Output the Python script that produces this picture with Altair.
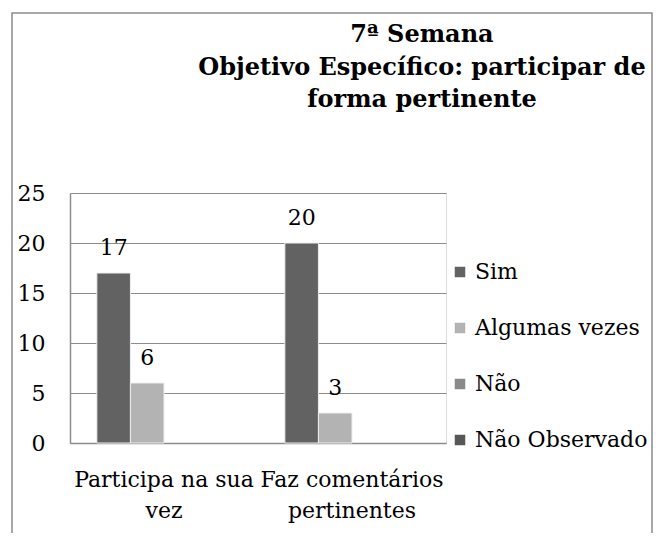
import altair as alt
import pandas as pd

categories = ["Participa na sua vez", "Faz comentários pertinentes"]
category_lines = [["Participa na sua", "vez"], ["Faz comentários", "pertinentes"]]
series = ["Sim", "Algumas vezes", "Não", "Não Observado"]
colors = ["#626262", "#b3b3b3", "#8a8a8a", "#575757"]
sim_values = [17, 20]
algumas_values = [6, 3]
title_lines = ["7ª Semana", "Objetivo Específico: participar de", "forma pertinente"]

rows = []
for c, s, a in zip(categories, sim_values, algumas_values):
    rows.append({"categoria": c, "serie": "Sim", "valor": s})
    rows.append({"categoria": c, "serie": "Algumas vezes", "valor": a})
df = pd.DataFrame(rows)

label_expr = " : ".join(
    [f"datum.value == '{c}' ? {lines!r}" for c, lines in zip(categories, category_lines)]
) + " : datum.value"

FONT = "DejaVu Serif"

y_scale = alt.Scale(domain=[0, 25], nice=False, zero=True, padding=0)

x_enc = alt.X(
    "categoria:N",
    sort=categories,
    scale=alt.Scale(domain=categories, paddingInner=0, paddingOuter=0),
    axis=alt.Axis(
        title=None, labelAngle=0, ticks=False, labelExpr=label_expr,
        labelFontSize=22, labelFont=FONT, labelColor="#000000", labelLimit=0,
        labelPadding=26, labelLineHeight=31, labelBaseline="top",
        domainColor="#8c8c8c", domainWidth=1.5,
    ),
)
xoff = alt.XOffset(
    "serie:N",
    scale=alt.Scale(domain=series, paddingInner=0, paddingOuter=0.8),
)
y_enc = alt.Y(
    "valor:Q",
    scale=y_scale,
    axis=alt.Axis(
        title=None, values=[0, 5, 10, 15, 20, 25], ticks=False,
        labelFontSize=22, labelFont=FONT, labelColor="#000000", labelPadding=25,
        gridColor="#8c8c8c", gridWidth=1.2, domainColor="#8c8c8c", domainWidth=1.5,
    ),
)

bars = alt.Chart(df).mark_bar(stroke="#eeeeee", strokeWidth=1).encode(
    x=x_enc,
    xOffset=xoff,
    y=y_enc,
    color=alt.Color(
        "serie:N",
        scale=alt.Scale(domain=series, range=colors),
        legend=alt.Legend(
            title=None, orient="none", legendX=379, legendY=68,
            symbolType="square", symbolSize=110, symbolStrokeWidth=0,
            labelFontSize=22, labelFont=FONT, labelColor="#000000", labelLimit=0,
            rowPadding=34, labelOffset=4, padding=0,
        ),
    ),
)

labels = alt.Chart(df).mark_text(
    fontSize=22, font=FONT, color="#000000", baseline="alphabetic", dy=-18
).encode(
    x=alt.X("categoria:N", sort=categories),
    xOffset=alt.XOffset("serie:N"),
    y=alt.Y("valor:Q", scale=y_scale),
    text=alt.Text("valor:Q"),
)

title = alt.Chart(alt.Data(values=[{"k": 1}])).mark_text(
    text=title_lines, fontSize=24, font=FONT, fontWeight="bold", color="#000000",
    align="center", baseline="alphabetic", lineHeight=32.5,
).encode(x=alt.value(352), y=alt.value(-151))

frame = alt.Chart(alt.Data(values=[{"k": 1}])).mark_rect(
    fill=None, stroke="#8c8c8c", strokeWidth=1.5
).encode(
    x=alt.value(-58), x2=alt.value(582), y=alt.value(-180), y2=alt.value(420)
)

chart = alt.layer(frame, title, bars, labels).properties(
    width=376,
    height=250,
    padding={"left": 62, "top": 185, "right": 207, "bottom": 90},
    autosize=alt.AutoSizeParams(type="none"),
).configure_view(strokeWidth=0).configure(background="white")

chart.save("out.html", embed_options={"renderer": "svg", "actions": False})
